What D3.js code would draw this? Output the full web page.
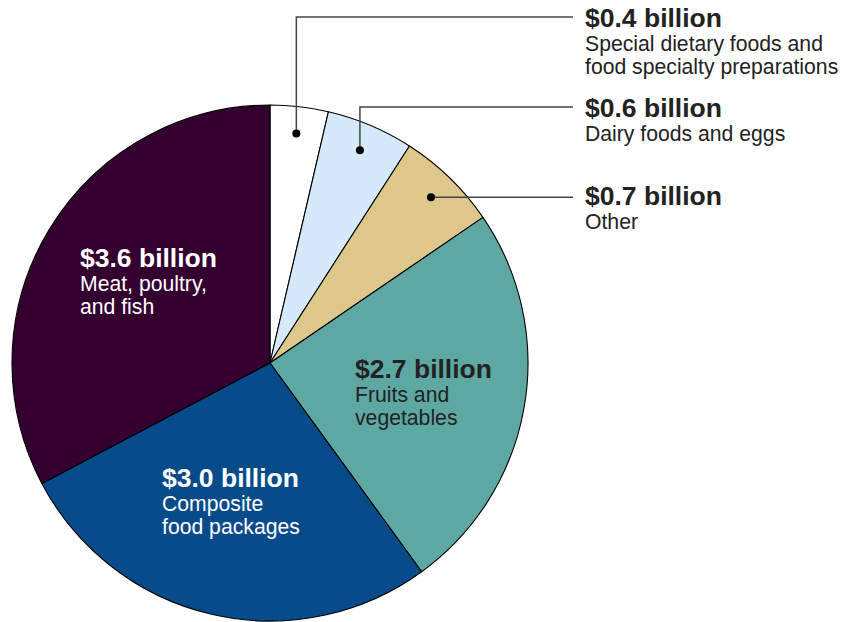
<!DOCTYPE html>
<html>
<head>
<meta charset="utf-8">
<script src="https://cdn.jsdelivr.net/npm/d3@7"></script>
<style>
  html, body { margin: 0; padding: 0; background: #fff; }
  svg { display: block; font-family: "Liberation Sans", Arial, sans-serif; }
</style>
</head>
<body>
<svg id="chart" width="842" height="622"></svg>
<script>
// Food spending by category, billions of dollars (clockwise from 12 o'clock)
const categories = [
  "Special dietary foods and food specialty preparations",
  "Dairy foods and eggs",
  "Other",
  "Fruits and vegetables",
  "Composite food packages",
  "Meat, poultry, and fish"
];
const values = [0.4, 0.6, 0.7, 2.7, 3.0, 3.6];
const valueLabels = ["$0.4 billion", "$0.6 billion", "$0.7 billion", "$2.7 billion", "$3.0 billion", "$3.6 billion"];
const nameLines = [
  ["Special dietary foods and", "food specialty preparations"],
  ["Dairy foods and eggs"],
  ["Other"],
  ["Fruits and", "vegetables"],
  ["Composite", "food packages"],
  ["Meat, poultry,", "and fish"]
];
const colors = ["#ffffff", "#d6e9fb", "#dec78a", "#5da8a2", "#074b8b", "#330030"];
const textColors = ["#222", "#222", "#222", "#222", "#fff", "#fff"];

const svg = d3.select("#chart");
const cx = 270, cy = 363, R = 258;
const boldSize = 26.5, regSize = 21.2;

const pie = d3.pie().sort(null).value(d => d)
  .startAngle(0).endAngle(2 * Math.PI);
const arcs = pie(values);
const arc = d3.arc().innerRadius(0).outerRadius(R);

const g = svg.append("g").attr("transform", `translate(${cx},${cy})`);

g.selectAll("path.slice")
  .data(arcs)
  .join("path")
  .attr("class", "slice")
  .attr("d", arc)
  .attr("fill", (d, i) => colors[i])
  .attr("stroke", "#000")
  .attr("stroke-width", 1.1)
  .attr("stroke-linejoin", "round");

// Writes a bold value line followed by the category name lines
function labelBlock(x, y, i) {
  const t = svg.append("text").attr("x", x).attr("y", y).attr("fill", textColors[i]);
  t.append("tspan").attr("x", x).attr("font-size", boldSize).attr("font-weight", "bold")
    .text(valueLabels[i]);
  nameLines[i].forEach((ln, k) => {
    t.append("tspan").attr("x", x).attr("dy", k === 0 ? 24 : 23)
      .attr("font-size", regSize).text(ln);
  });
}

// Leader callouts for the three small slices
const dotArc = d3.arc().innerRadius(231).outerRadius(231);
const calloutX = 585, lineEndX = 573;
const callouts = [
  { i: 0, lineY: 17, textY: 27 },
  { i: 1, lineY: 107, textY: 117 },
  { i: 2, lineY: null, textY: 205 }
];

callouts.forEach(c => {
  const [dx, dy] = dotArc.centroid(arcs[c.i]);
  const px = cx + dx, py = cy + dy;
  svg.append("path")
    .attr("d", c.lineY === null
      ? `M${px},${py}H${lineEndX}`
      : `M${px},${py}V${c.lineY}H${lineEndX}`)
    .attr("fill", "none")
    .attr("stroke", "#444")
    .attr("stroke-width", 1.5);
  svg.append("circle")
    .attr("cx", px).attr("cy", py).attr("r", 4)
    .attr("fill", "#000");
  labelBlock(calloutX, c.textY, c.i);
});

// Labels placed inside the large slices
const inside = [
  { i: 3, x: 355, y: 378 },
  { i: 4, x: 162, y: 487 },
  { i: 5, x: 80, y: 267 }
];
inside.forEach(c => labelBlock(c.x, c.y, c.i));
</script>
</body>
</html>
